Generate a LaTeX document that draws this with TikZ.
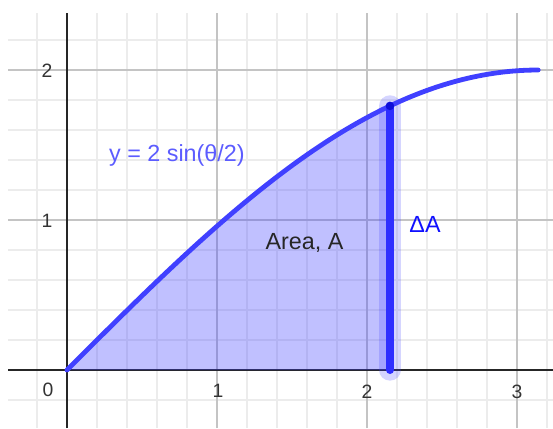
\documentclass[tikz,border=0pt]{standalone}
\usepackage{fontspec}
\setmainfont{Liberation Sans}
\usetikzlibrary{positioning}
\definecolor{GridMinor}{HTML}{ECECEC}
\definecolor{GridMajor}{HTML}{C4C4C4}
\definecolor{CurveBlue}{HTML}{4040FF}
\definecolor{StripBlue}{HTML}{2E2EFF}
\definecolor{LabelBlue}{HTML}{5C5CFF}
\definecolor{DeltaBlue}{HTML}{1010FF}
\definecolor{TickText}{HTML}{333333}

\begin{document}
\begin{tikzpicture}[
        x=112.5pt, y=112.5pt,
        minor/.style={draw=GridMinor, line width=0.8pt},
        major/.style={draw=GridMajor, line width=1.1pt},
        axis/.style={draw=black!85, line width=1.3pt},
        curve/.style={draw=CurveBlue, line width=3.6pt, line cap=round},
        halo/.style={draw=CurveBlue, draw opacity=0.22, line width=16pt, line cap=round},
        strip/.style={draw=StripBlue, line width=6pt, line cap=round},
        ticklabel/.style={font=\fontsize{14.5}{16}\selectfont, text=TickText, inner sep=0pt},
        lbl/.style={font=\fontsize{17.5}{19}\selectfont, inner sep=0pt}
    ]
        \useasboundingbox (-0.4467,-0.3867) rectangle (3.24,2.4667);

        % grid
        \foreach \i in {-1,...,16}
            \draw[minor] ({\i/5},-0.387) -- ({\i/5},2.38);
        \foreach \j in {-1,...,11}
            \draw[minor] (-0.393,{\j/5}) -- (3.24,{\j/5});
        \foreach \i in {1,2,3}
            \draw[major] (\i,-0.387) -- (\i,2.38);
        \foreach \j in {1,2}
            \draw[major] (-0.393,\j) -- (3.24,\j);

        % axes
        \draw[axis] (-0.393,0) -- (3.24,0);
        \draw[axis] (0,-0.387) -- (0,2.38);

        \node[ticklabel] (x0) at (-0.127,-0.133) {0};
        \node[ticklabel] (x1) at (1.007,-0.14) {1};
        \node[ticklabel] (x2) at (2.0,-0.147) {2};
        \node[ticklabel] (x3) at (3.0,-0.147) {3};
        \node[ticklabel] (y1) at (-0.133,0.993) {1};
        \node[ticklabel] (y2) at (-0.133,1.993) {2};

        % area under the curve
        \coordinate (base) at (2.153,0);
        \coordinate (top) at (2.153,{2*sin(deg(2.153/2))});
        \fill[CurveBlue, fill opacity=0.33]
            plot[domain=0:2.153, samples=80] (\x,{2*sin(deg(\x/2))}) -- (base) -- cycle;

        \draw[curve] plot[domain=0:3.1416, samples=120] (\x,{2*sin(deg(\x/2))});

        % strip
        \draw[halo] (base) -- (top);
        \draw[strip] (base) -- (top);
        \fill[DeltaBlue!85!black] (top) circle (3.2pt);

        \node[lbl, text=LabelBlue] (fn) at (0.733,1.433) {y = 2 sin(θ/2)};
        \node[lbl, text=black!85] (area) at (1.583,0.847) {Area, A};
        \node[lbl, text=DeltaBlue] (dA) at (2.387,0.973) {ΔA};
    \end{tikzpicture}
\end{document}
